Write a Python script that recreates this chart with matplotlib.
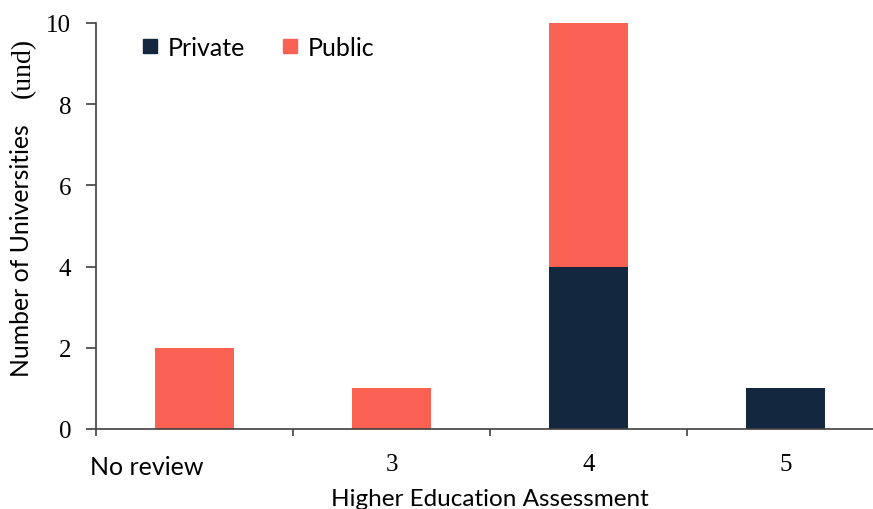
import matplotlib.pyplot as plt
import numpy as np
from matplotlib.lines import Line2D

# datos
categories = ['No review', '3', '4', '5']
private = [0, 0, 4, 1]
public = [2, 1, 6, 0]

navy = '#13273f'
coral = '#f96253'
sans = ['Lato', 'DejaVu Sans']
serif = ['Liberation Serif', 'DejaVu Serif']

fig = plt.figure(figsize=(8.73, 5.10), dpi=100)
ax = fig.add_axes([96 / 873, 1 - 430 / 510, 1 - 96 / 873, (430 - 24) / 510])

x = np.arange(len(categories))
ax.bar(x, private, width=0.4, color=navy, zorder=2)
ax.bar(x, public, width=0.4, bottom=private, color=coral, zorder=2)

ax.set_xlim(-0.5, 3.444)
ax.set_ylim(0, 10)

for s in ['top', 'right']:
    ax.spines[s].set_visible(False)
for s in ['left', 'bottom']:
    ax.spines[s].set_color('#404040')
    ax.spines[s].set_linewidth(1.2)

ax.set_yticks([0, 2, 4, 6, 8, 10])
ax.tick_params(axis='y', direction='out', length=7, width=1.2, color='#404040',
               pad=11, labelsize=18)
for lab in ax.get_yticklabels():
    lab.set_fontfamily(serif)

# ticks del eje x: marcas en los limites, etiquetas en el centro
ax.set_xticks(x)
ax.set_xticklabels([''] + categories[1:], fontfamily=serif, fontsize=18)
ax.tick_params(axis='x', which='major', length=0, pad=17)
ax.set_xticks(list(x[:-1] + 0.5) + [-0.5], minor=True)
ax.tick_params(axis='x', which='minor', direction='out', length=5, width=1.2,
               color='#404040')
ax.text(-0.53, -0.111, categories[0], transform=ax.get_xaxis_transform(),
        fontfamily=sans, fontsize=18, ha='left', va='baseline')

fig.text(490 / 873, 4 / 510, 'Higher Education Assessment', fontfamily=sans,
         fontsize=17.5, ha='center', va='baseline')

# etiqueta del eje y en dos partes
fig.text(33 / 873, 1 - 377 / 510, 'Number of Universities', fontfamily=sans,
         fontsize=17.8, rotation=90, ha='right', va='bottom')
fig.text(36 / 873, 1 - 98 / 510, '(und)', fontfamily=serif,
         fontsize=20, rotation=90, ha='right', va='bottom')

handles = [Line2D([], [], ls='none', marker='s', markersize=10, color=navy),
           Line2D([], [], ls='none', marker='s', markersize=10, color=coral)]
fig.legend(handles, ['Private', 'Public'], loc='upper left',
           bbox_to_anchor=(140 / 873, 1 - 37 / 510), ncol=2, frameon=False,
           prop={'family': sans, 'size': 18}, handlelength=0.8,
           handletextpad=0.3, columnspacing=1.4, borderpad=0, borderaxespad=0)

fig.savefig('out.png', dpi=100)
